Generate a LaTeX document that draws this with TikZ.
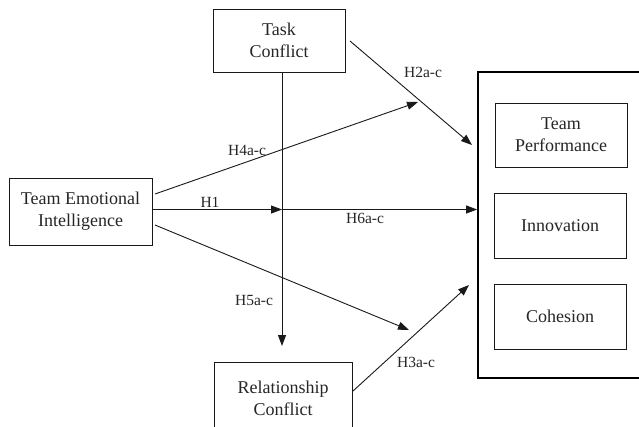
\documentclass[tikz,border=0pt]{standalone}
\usepackage{fontspec}
\setmainfont{Liberation Serif}
\usetikzlibrary{arrows.meta}
\begin{document}
\begin{tikzpicture}[x=1pt,y=-1pt,
  box/.style={draw=black!90, line width=0.9pt, rectangle, align=center, inner sep=0pt,
    font=\fontsize{18}{22}\selectfont, text=black!85},
  lab/.style={font=\fontsize{15.5}{18}\selectfont, text=black!85, inner sep=0pt},
  arr/.style={draw=black!90, line width=0.9pt, -{Triangle[length=11pt,width=8pt]}},
  ln/.style={draw=black!90, line width=0.9pt}]
\useasboundingbox (0,0) rectangle (639,426);
\clip (0,0) rectangle (639,426);
\fill[white] (0,0) rectangle (639,426);
% boxes
\node[box, minimum width=132pt, minimum height=63pt] (tc) at (279,40.5) {Task\\Conflict};
\node[box, minimum width=143pt, minimum height=67pt] (tei) at (80.5,211.5) {Team Emotional\\Intelligence};
\node[box, minimum width=138pt, minimum height=72pt] (rc) at (283,398) {Relationship\\Conflict};
\node[draw=black, line width=1.8pt, rectangle, minimum width=222pt, minimum height=306pt, inner sep=0pt] (out) at (589,225) {};
\node[box, minimum width=132pt, minimum height=64pt] (tp) at (561,135) {Team\\Performance};
\node[box, minimum width=132pt, minimum height=65pt] (inn) at (560,225.5) {Innovation};
\node[box, minimum width=132pt, minimum height=65pt] (coh) at (560,316.5) {Cohesion};
% connector points
\coordinate (tcb) at (282,72);
\coordinate (j) at (282,209.5);
\coordinate (rct) at (282,346);
\coordinate (h4s) at (155,194);
\coordinate (h4e) at (418,102);
\coordinate (h2s) at (350,41);
\coordinate (h2e) at (472,145);
\coordinate (h5s) at (155,225);
\coordinate (h5e) at (409,330);
\coordinate (h3s) at (353,391);
\coordinate (h3e) at (469,285);
% connectors
\draw[arr] (tcb) -- (rct);
\draw[arr] (tei.east |- j) -- (j);
\draw[arr] (j) -- (j -| out.west);
\draw[arr] (h4s) -- (h4e);
\draw[arr] (h2s) -- (h2e);
\draw[arr] (h5s) -- (h5e);
\draw[arr] (h3s) -- (h3e);
% labels
\node[lab] (l4) at (247,150) {H4a-c};
\node[lab] (l1) at (210,202) {H1};
\node[lab] (l2) at (423,72) {H2a-c};
\node[lab] (l6) at (365,218) {H6a-c};
\node[lab] (l5) at (254,300) {H5a-c};
\node[lab] (l3) at (416,362) {H3a-c};
\end{tikzpicture}
\end{document}
